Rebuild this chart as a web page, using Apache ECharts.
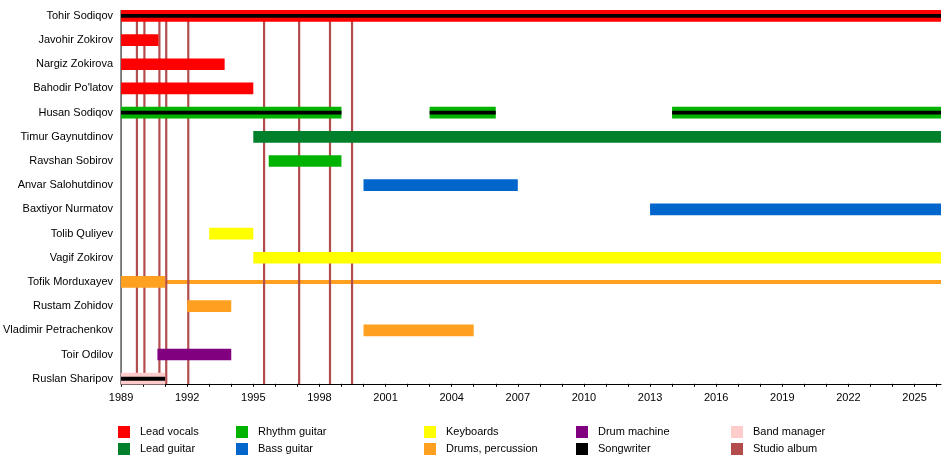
<!DOCTYPE html>
<html>
<head>
<meta charset="utf-8">
<script src="https://cdn.jsdelivr.net/npm/echarts@6/dist/echarts.min.js"></script>
<style>
  html, body { margin: 0; padding: 0; background: #fff; }
  #chart { width: 950px; height: 464px; }
</style>
</head>
<body>
<div id="chart"></div>
<script>
var END = 2026.2;

var members = ['Tohir Sodiqov', 'Javohir Zokirov', 'Nargiz Zokirova', "Bahodir Po'latov",
  'Husan Sodiqov', 'Timur Gaynutdinov', 'Ravshan Sobirov', 'Anvar Salohutdinov',
  'Baxtiyor Nurmatov', 'Tolib Quliyev', 'Vagif Zokirov', 'Tofik Morduxayev',
  'Rustam Zohidov', 'Vladimir Petrachenkov', 'Toir Odilov', 'Ruslan Sharipov'];

// [member, from, to]
var leadVocals = [['Tohir Sodiqov', 1989, END], ['Javohir Zokirov', 1989, 1990.7],
  ['Nargiz Zokirova', 1989, 1993.7], ["Bahodir Po'latov", 1989, 1995]];
var leadGuitar = [['Timur Gaynutdinov', 1995, END]];
var rhythmGuitar = [['Husan Sodiqov', 1989, 1999], ['Husan Sodiqov', 2003, 2006],
  ['Husan Sodiqov', 2014, END], ['Ravshan Sobirov', 1995.7, 1999]];
var bassGuitar = [['Anvar Salohutdinov', 2000, 2007], ['Baxtiyor Nurmatov', 2013, END]];
var keyboards = [['Tolib Quliyev', 1993, 1995], ['Vagif Zokirov', 1995, END]];
var drums = [['Tofik Morduxayev', 1989, 1991], ['Rustam Zohidov', 1992, 1994],
  ['Vladimir Petrachenkov', 2000, 2005]];
var drumsThin = [['Tofik Morduxayev', 1991, END]];
var drumMachine = [['Toir Odilov', 1990.65, 1994]];
var bandManager = [['Ruslan Sharipov', 1989, 1991]];
var songwriter = [['Tohir Sodiqov', 1989, END], ['Husan Sodiqov', 1989, 1999],
  ['Husan Sodiqov', 2003, 2006], ['Husan Sodiqov', 2014, END], ['Ruslan Sharipov', 1989, 1991]];
var studioAlbums = [1989.72, 1990.06, 1990.74, 1991.05, 1992.05, 1995.49, 1997.08, 1998.48, 1999.48];

var colors = {
  'Lead vocals': '#ff0000',
  'Lead guitar': '#00802b',
  'Rhythm guitar': '#00b300',
  'Bass guitar': '#0066cc',
  'Keyboards': '#ffff00',
  'Drums, percussion': '#ffa020',
  'Drum machine': '#800080',
  'Songwriter': '#000000',
  'Band manager': '#ffcccc',
  'Studio album': '#b34d4d'
};

var FONT = 'Liberation Sans, Arial, sans-serif';

function toData(list) {
  return list.map(function (d) { return [d[1], d[2], members.indexOf(d[0])]; });
}

function barRenderer(frac) {
  return function (params, api) {
    var row = api.value(2);
    var p0 = api.coord([api.value(0), row]);
    var p1 = api.coord([api.value(1), row]);
    var h = api.size([0, 1])[1] * frac;
    return {
      type: 'rect',
      shape: { x: p0[0], y: p0[1] - h / 2, width: p1[0] - p0[0], height: h },
      style: { fill: api.visual('color') }
    };
  };
}

function barSeries(name, list, frac, z) {
  return {
    name: name,
    type: 'custom',
    renderItem: barRenderer(frac),
    encode: { x: [0, 1], y: 2 },
    itemStyle: { color: colors[name] },
    data: toData(list),
    z: z,
    silent: true
  };
}

// vertical line from first row's bar down to the time axis
function vline(topFrac, color, width) {
  return function (params, api) {
    var band = api.size([0, 1])[1];
    var top = api.coord([api.value(0), 0]);
    var bottom = api.coord([api.value(0), members.length - 1]);
    return {
      type: 'line',
      shape: { x1: top[0], y1: top[1] - band * topFrac, x2: bottom[0], y2: bottom[1] + band * 0.22 },
      style: { stroke: color, lineWidth: width }
    };
  };
}

var albumSeries = {
  name: 'Studio album',
  type: 'custom',
  itemStyle: { color: colors['Studio album'] },
  encode: { x: 0 },
  data: studioAlbums.map(function (y) { return [y]; }),
  z: 2,
  silent: true,
  renderItem: vline(0, colors['Studio album'], 2.2)
};

var yAxisLine = {
  type: 'custom',
  encode: { x: 0 },
  data: [[1989]],
  z: 1,
  silent: true,
  renderItem: vline(0.242, '#000', 1)
};

var legendCols = [
  { left: 118, data: ['Lead vocals', 'Lead guitar'] },
  { left: 236, data: ['Rhythm guitar', 'Bass guitar'] },
  { left: 424, data: ['Keyboards', 'Drums, percussion'] },
  { left: 576, data: ['Drum machine', 'Songwriter'] },
  { left: 731, data: ['Band manager', 'Studio album'] }
];

var chart = echarts.init(document.getElementById('chart'), null, { renderer: 'canvas' });

chart.setOption({
  animation: false,
  backgroundColor: '#ffffff',
  textStyle: { fontFamily: FONT },
  grid: { left: 120, right: 9, top: 3.8, bottom: 73.2 },
  legend: legendCols.map(function (c) {
    return {
      orient: 'vertical',
      left: c.left,
      top: 426,
      icon: 'rect',
      itemWidth: 12,
      itemHeight: 12,
      itemGap: 5,
      selectedMode: false,
      padding: 0,
      textStyle: { fontFamily: FONT, fontSize: 11, color: '#000', padding: [1, 0, 0, 5] },
      data: c.data
    };
  }),
  xAxis: {
    type: 'value',
    min: 1989,
    max: END,
    interval: 1,
    offset: -7,
    splitLine: { show: false },
    axisLine: { show: true, lineStyle: { color: '#000', width: 1 } },
    axisTick: { show: true, length: 3, lineStyle: { color: '#000' } },
    axisLabel: {
      margin: 9,
      fontFamily: FONT,
      fontSize: 11,
      color: '#000',
      showMaxLabel: false,
      formatter: function (v) {
        return (Math.round(v) === v && v % 3 === 0) ? String(v) : '';
      }
    }
  },
  yAxis: {
    type: 'category',
    inverse: true,
    data: members,
    axisTick: { show: false },
    axisLine: { show: false },
    splitLine: { show: false },
    axisLabel: { margin: 8, fontFamily: FONT, fontSize: 11, color: '#000' }
  },
  series: [
    yAxisLine,
    barSeries('Drums, percussion', drumsThin, 0.16, 1),
    albumSeries,
    barSeries('Lead vocals', leadVocals, 0.484, 3),
    barSeries('Lead guitar', leadGuitar, 0.484, 3),
    barSeries('Rhythm guitar', rhythmGuitar, 0.484, 3),
    barSeries('Bass guitar', bassGuitar, 0.484, 3),
    barSeries('Keyboards', keyboards, 0.484, 3),
    barSeries('Drums, percussion', drums, 0.484, 3),
    barSeries('Drum machine', drumMachine, 0.484, 3),
    barSeries('Band manager', bandManager, 0.484, 3),
    barSeries('Songwriter', songwriter, 0.16, 4)
  ]
});
</script>
</body>
</html>
